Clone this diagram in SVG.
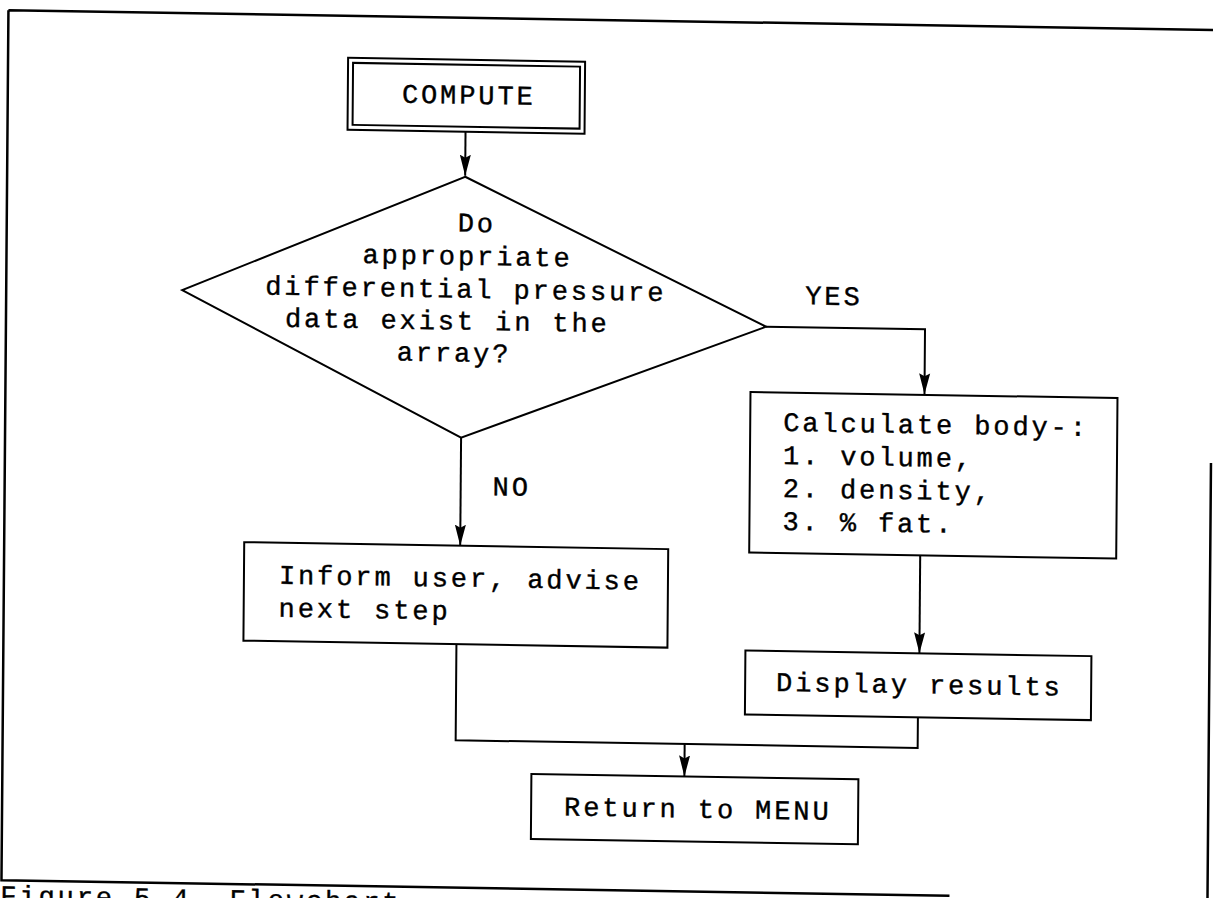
<svg xmlns="http://www.w3.org/2000/svg" width="1213" height="898" viewBox="0 0 1213 898">
<style>
.ln{fill:none;stroke:#000;stroke-width:2}
.box{fill:#fff;stroke:#000;stroke-width:2}
.fr{fill:none;stroke:#000;stroke-width:2.5}
.t{font-family:"Liberation Mono","DejaVu Sans Mono",monospace;font-size:27px;letter-spacing:2.9px;fill:#000;stroke:#000;stroke-width:0.4}
</style>
<defs>
<marker id="ah" markerUnits="userSpaceOnUse" markerWidth="22" markerHeight="14" refX="21" refY="7" orient="auto">
<path d="M0,1.5 L21,7 L0,12.5 L3,7 Z" fill="#000"/>
</marker>
</defs>
<rect width="1213" height="898" fill="#fff"/>
<g transform="translate(600 450) matrix(1 0.0165 -0.008 1 0 0) translate(-600 -450)">
<g id="frame">
<path class="fr" d="M5,20 L1235,20 M5,20 L5,890 L953,890 M1211,453 L1211,925"/>
</g>
<g id="connectors">
<path class="ln" d="M463,134 L463,178" marker-end="url(#ah)"/>
<path class="ln" d="M765,324 L924,324 L924,389" marker-end="url(#ah)"/>
<path class="ln" d="M461,440 L461,548" marker-end="url(#ah)"/>
<path class="ln" d="M921,550 L921,648" marker-end="url(#ah)"/>
<path class="ln" d="M458,647 L458,742.6 L920,742.6 L920,712"/>
<path class="ln" d="M687,742.6 L687,775" marker-end="url(#ah)"/>
<text class="t" x="804" y="301">YES</text>
<text class="t" x="493" y="497">NO</text>
</g>
<g id="compute">
<rect class="box" x="345" y="62" width="237" height="72"/>
<rect class="ln" x="350" y="67" width="227" height="62"/>
<text class="t" x="466" y="106" text-anchor="middle">COMPUTE</text>
</g>
<g id="decision">
<polygon class="box" points="463,179 765,324 461,440 181,297"/>
<text class="t" x="456" y="234">Do</text>
<text class="t" x="361" y="267">appropriate</text>
<text class="t" x="264" y="300">differential pressure</text>
<text class="t" x="284" y="332">data exist in the</text>
<text class="t" x="396" y="364">array?</text>
</g>
<g id="calculate">
<rect class="box" x="750" y="389.5" width="367" height="160.5"/>
<text class="t" x="783" y="428">Calculate body-:</text>
<text class="t" x="783" y="461">1. volume,</text>
<text class="t" x="783" y="494">2. density,</text>
<text class="t" x="783" y="527">3. % fat.</text>
</g>
<g id="inform">
<rect class="box" x="245" y="548" width="424" height="98.5"/>
<text class="t" x="280" y="589">Inform user, advise</text>
<text class="t" x="280" y="622">next step</text>
</g>
<g id="display">
<rect class="box" x="747" y="648" width="346" height="64"/>
<text class="t" x="778" y="688">Display results</text>
</g>
<g id="return">
<rect class="box" x="534" y="775" width="327" height="65"/>
<text class="t" x="567" y="816">Return to MENU</text>
</g>
<g id="caption">
<text class="t" x="4" y="914" xml:space="preserve">Figure 5.4  Flowchart</text>
</g>
</g>
</svg>
